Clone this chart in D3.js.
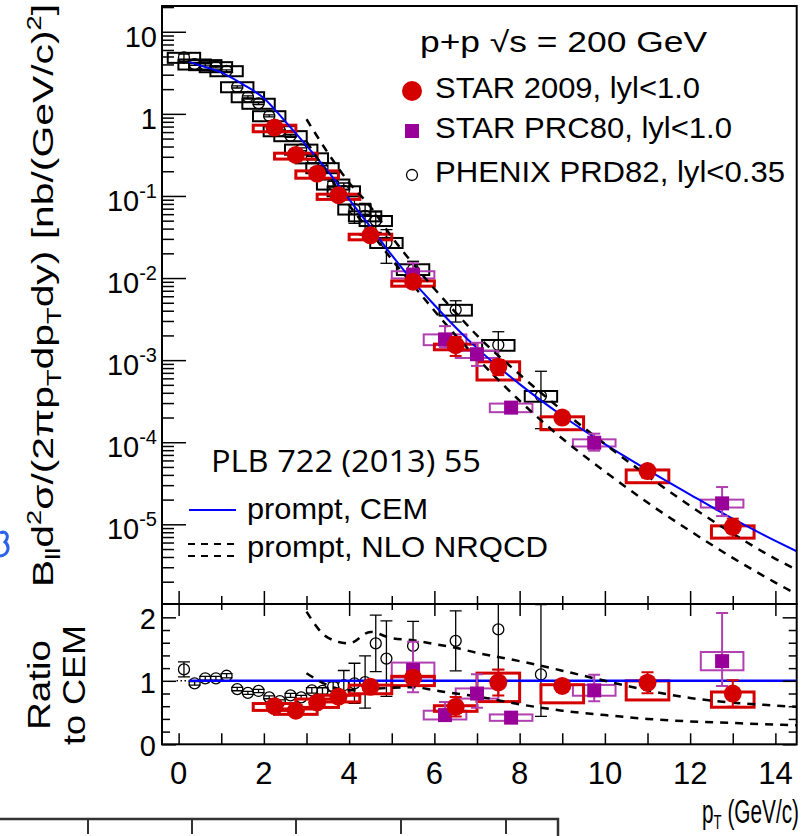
<!DOCTYPE html>
<html>
<head>
<meta charset="utf-8">
<script src="https://cdn.jsdelivr.net/npm/d3@7"></script>
<style>
  body { margin: 0; background: #fff; }
  svg { display: block; }
  text { font-family: "Liberation Sans", Arial, Helvetica, sans-serif; fill: #000; }
</style>
</head>
<body>
<svg id="chart" width="812" height="836"></svg>
<script>
// ---- data ----
// STAR 2009, |y|<1
var starX = [2.25, 2.75, 3.25, 3.75, 4.5, 5.5, 6.5, 7.5, 9, 11, 13];
var starY = [0.68, 0.316, 0.187, 0.102, 0.0332, 0.00904, 0.00152, 0.00083, 0.0002, 0.0000446, 0.0000093];
var starStat = [0.05, 0.05, 0.05, 0.05, 0.06, 0.06, 0.26, 0.21, 0.06, 0.17, 0.26];
var starSysLo = [0.11, 0.11, 0.12, 0.11, 0.12, 0.12, 0.12, 0.31, 0.29, 0.28, 0.27];
var starSysHi = [0.07, 0.05, 0.08, 0.03, 0.03, 0.02, 0.03, 0.15, 0.02, 0.03, 0.03];
var starRatio = [0.60, 0.53, 0.66, 0.75, 0.905, 1.05, 0.59, 0.975, 0.92, 0.97, 0.80];

// STAR PRC80
var prcX = [5.5, 6.25, 7.0, 7.8, 9.75, 12.75];
var prcY = [0.011, 0.00179, 0.00118, 0.000264, 0.0000986, 0.000018];
var prcStatLo = [0.30, 0.20, 0.28, 0.05, 0.20, 0.30];
var prcStatHi = [0.38, 0.45, 0.38, 0.05, 0.29, 0.58];
var prcSys = [0.10, 0.15, 0.10, 0.12, 0.10, 0.11];
var prcRatio = [1.17, 0.46, 0.80, 0.42, 0.85, 1.31];

// PHENIX PRD82, |y|<0.35
var phxX = [0.125, 0.375, 0.625, 0.875, 1.125, 1.375, 1.625, 1.875, 2.125, 2.375, 2.625, 2.875,
            3.125, 3.375, 3.625, 3.875, 4.125, 4.375, 4.625, 4.875, 5.5, 6.5, 7.5, 8.5];
var phxY = [4.86, 4.03, 3.96, 3.74, 3.34, 2.13, 1.61, 1.34, 0.945, 0.62, 0.54, 0.37,
            0.29, 0.22, 0.139, 0.115, 0.069, 0.057, 0.05, 0.027, 0.0128, 0.0041, 0.00153, 0.000366];
var phxStatLo = [0.10, 0.03, 0.03, 0.03, 0.03, 0.03, 0.03, 0.03, 0.03, 0.03, 0.04, 0.04,
                 0.05, 0.06, 0.08, 0.18, 0.33, 0.42, 0.28, 0.44, 0.25, 0.29, 0.35, 0.60];
var phxStatHi = [0.10, 0.03, 0.03, 0.03, 0.03, 0.03, 0.03, 0.03, 0.03, 0.03, 0.04, 0.04,
                 0.05, 0.06, 0.08, 0.25, 0.33, 0.42, 0.28, 0.44, 0.25, 0.29, 0.45, 1.00];
var phxSys = [0.14, 0.14, 0.14, 0.14, 0.14, 0.14, 0.14, 0.14, 0.14, 0.14, 0.14, 0.14,
              0.14, 0.14, 0.14, 0.14, 0.14, 0.14, 0.14, 0.14, 0.15, 0.15, 0.15, 0.15];
var phxRatio = [1.18, 0.96, 1.04, 1.04, 1.08, 0.87, 0.81, 0.84, 0.74, 0.68, 0.77, 0.74,
                0.85, 0.84, 0.91, 0.93, 0.96, 0.98, 1.59, 1.35, 1.55, 1.63, 1.81, 1.10];

// prompt, CEM
var cemX = [0.25, 0.5, 1, 1.5, 2, 2.5, 3, 3.5, 4, 4.5, 5, 5.5, 6, 6.5, 7, 7.5, 8, 9, 10, 11, 12, 13, 14, 14.5];
var cemY = [4.3, 3.9, 3.2, 2.3, 1.55, 0.81, 0.41, 0.2, 0.091, 0.042, 0.019, 0.0091, 0.0047, 0.0025,
            0.0014, 0.00083, 0.00051, 0.00021, 0.000095, 0.000046, 0.000023, 0.0000117, 0.0000063, 0.0000047];

// prompt, NLO NRQCD band (upper and lower edge)
var nrqX = [3, 3.5, 4, 4.5, 5, 5.5, 6, 6.5, 7, 8, 9, 10, 11, 12, 13, 14, 14.5];
var nrqHi = [0.86, 0.336, 0.145, 0.074, 0.0317, 0.0149, 0.0074, 0.0038, 0.0020, 0.00067, 0.000244,
             0.000095, 0.000039, 0.0000168, 0.0000077, 0.0000038, 0.0000028];
var nrqLo = [0.46, 0.186, 0.077, 0.0365, 0.0169, 0.0082, 0.0040, 0.0020, 0.00106, 0.00032, 0.000111,
             0.000044, 0.0000184, 0.0000083, 0.0000039, 0.00000195, 0.00000141];
var nrqHiRatio = [2.09, 1.68, 1.59, 1.77, 1.67, 1.64, 1.58, 1.52, 1.44, 1.31, 1.16, 1.0, 0.85, 0.73, 0.655, 0.61, 0.59];
var nrqLoRatio = [1.12, 0.93, 0.85, 0.87, 0.89, 0.90, 0.85, 0.80, 0.755, 0.63, 0.53, 0.46, 0.40, 0.36, 0.335, 0.31, 0.30];

var xTicks = [0, 2, 4, 6, 8, 10, 12, 14];
var yDecades = [1e-5, 1e-4, 1e-3, 1e-2, 1e-1, 1, 10];
var ratioTicks = [0, 1, 2];

// ---- layout ----
var svg = d3.select("#chart");
var L = 162, R = 796.7, T = 6, M = 604, B = 744.3;
var RED = "#d40000", PURPLE = "#990099", PURPLE_L = "#b040b0", BLUE = "#0000ff";

var x = d3.scaleLinear().domain([-0.39, 14.5]).range([L, R]);
var y = d3.scaleLog().domain([1.07e-6, 20.6]).range([M, T]);
var yr = d3.scaleLinear().domain([0, 2.21]).range([B, M]);

var defs = svg.append("defs");
defs.append("clipPath").attr("id", "clipTop").append("rect")
  .attr("x", L).attr("y", T).attr("width", R - L).attr("height", M - T);
defs.append("clipPath").attr("id", "clipBot").append("rect")
  .attr("x", L).attr("y", M).attr("width", R - L).attr("height", B - M);

function rows(xs, ys, rs, eLo, eHi, sLo, sHi) {
  return xs.map(function (v, i) {
    return { x: v, y: ys[i], r: rs[i], eLo: eLo[i], eHi: eHi[i], sLo: sLo[i], sHi: sHi[i] };
  });
}
var star = rows(starX, starY, starRatio, starStat, starStat, starSysLo, starSysHi);
var prc = rows(prcX, prcY, prcRatio, prcStatLo, prcStatHi, prcSys, prcSys);
var phx = rows(phxX, phxY, phxRatio, phxStatLo, phxStatHi, phxSys, phxSys);

function sysBoxes(g, data, ys, key, hw, color, sw) {
  g.append("g").selectAll("rect").data(data).join("rect")
    .attr("x", function (d) { return x(d.x - hw); })
    .attr("width", function (d) { return x(d.x + hw) - x(d.x - hw); })
    .attr("y", function (d) { return ys(d[key] * (1 + d.sHi)); })
    .attr("height", function (d) { return ys(d[key] * (1 - d.sLo)) - ys(d[key] * (1 + d.sHi)); })
    .attr("fill", "none").attr("stroke", color).attr("stroke-width", sw);
}

function errBars(g, data, ys, key, color, sw) {
  var eg = g.append("g").attr("stroke", color).attr("stroke-width", sw);
  data.forEach(function (d) {
    var cx = x(d.x);
    var y0 = ys(d[key] * (1 - d.eLo)), y1 = ys(d[key] * (1 + d.eHi));
    eg.append("line").attr("x1", cx).attr("x2", cx).attr("y1", y0).attr("y2", y1);
    eg.append("line").attr("x1", cx - 6).attr("x2", cx + 6).attr("y1", y0).attr("y2", y0);
    eg.append("line").attr("x1", cx - 6).attr("x2", cx + 6).attr("y1", y1).attr("y2", y1);
  });
}

function drawPoints(g, ys, key, top) {
  if (top) {
    g.append("g").selectAll("rect").data(phx).join("rect")
      .attr("x", function (d) { return x(d.x - 0.38); })
      .attr("width", function (d) { return x(d.x + 0.38) - x(d.x - 0.38); })
      .attr("y", function (d) { return ys(d[key] * (1 + d.sHi)); })
      .attr("height", function (d) { return ys(d[key] * (1 - d.sLo)) - ys(d[key] * (1 + d.sHi)); })
      .attr("fill", "none").attr("stroke", "#000").attr("stroke-width", 2);
  }
  errBars(g, phx, ys, key, "#000", 1.3);
  g.append("g").selectAll("circle").data(phx).join("circle")
    .attr("cx", function (d) { return x(d.x); })
    .attr("cy", function (d) { return ys(d[key]); })
    .attr("r", 5.5).attr("fill", "none").attr("stroke", "#000").attr("stroke-width", 1.3);
  sysBoxes(g, prc, ys, key, 0.5, PURPLE_L, 2);
  sysBoxes(g, star, ys, key, 0.5, RED, 3);
}

function drawMarkers(g, ys, key) {
  errBars(g, prc, ys, key, PURPLE_L, 2);
  g.append("g").selectAll("rect").data(prc).join("rect")
    .attr("x", function (d) { return x(d.x) - 7; })
    .attr("y", function (d) { return ys(d[key]) - 7; })
    .attr("width", 14).attr("height", 14).attr("fill", PURPLE);
  errBars(g, star, ys, key, RED, 2);
  g.append("g").selectAll("circle").data(star).join("circle")
    .attr("cx", function (d) { return x(d.x); })
    .attr("cy", function (d) { return ys(d[key]); })
    .attr("r", 9).attr("fill", RED);
}

// ---- upper panel ----
var gTop = svg.append("g").attr("clip-path", "url(#clipTop)");
drawPoints(gTop, y, "y", true);

var lineTop = d3.line().x(function (d) { return x(d[0]); }).y(function (d) { return y(d[1]); })
  .curve(d3.curveMonotoneX);
gTop.append("path").datum(cemX.map(function (v, i) { return [v, cemY[i]]; }))
  .attr("d", lineTop).attr("fill", "none").attr("stroke", BLUE).attr("stroke-width", 2);
[nrqHi, nrqLo].forEach(function (arr) {
  gTop.append("path").datum(nrqX.map(function (v, i) { return [v, arr[i]]; }))
    .attr("d", lineTop).attr("fill", "none").attr("stroke", "#000")
    .attr("stroke-width", 2.5).attr("stroke-dasharray", "8,7");
});
drawMarkers(gTop, y, "y");

// ---- lower panel ----
var gBot = svg.append("g").attr("clip-path", "url(#clipBot)");
var lineBot = d3.line().x(function (d) { return x(d[0]); }).y(function (d) { return yr(d[1]); })
  .curve(d3.curveMonotoneX);
gBot.append("line").attr("x1", x(-0.05)).attr("x2", x(cemX[0])).attr("y1", yr(1)).attr("y2", yr(1))
  .attr("stroke", "#000").attr("stroke-width", 1.5).attr("stroke-dasharray", "1.5,2.5");
drawPoints(gBot, yr, "r", false);
gBot.append("line").attr("x1", x(cemX[0])).attr("x2", x(cemX[cemX.length - 1]))
  .attr("y1", yr(1)).attr("y2", yr(1)).attr("stroke", BLUE).attr("stroke-width", 2.5);
[nrqHiRatio, nrqLoRatio].forEach(function (arr) {
  gBot.append("path").datum(nrqX.map(function (v, i) { return [v, arr[i]]; }))
    .attr("d", lineBot).attr("fill", "none").attr("stroke", "#000")
    .attr("stroke-width", 2.5).attr("stroke-dasharray", "8,7");
});
drawMarkers(gBot, yr, "r");

// ---- axes ----
function styleAxis(g) {
  g.select(".domain").remove();
  g.selectAll("line").attr("stroke", "#000").attr("stroke-width", 1.5);
  g.selectAll("text").remove();
}
var minorLog = y.ticks().filter(function (v) {
  return Math.abs(Math.log10(v) - Math.round(Math.log10(v))) > 1e-6;
});
svg.append("g").attr("transform", "translate(" + L + ",0)")
  .call(d3.axisRight(y).tickValues(yDecades).tickSize(24)).call(styleAxis);
svg.append("g").attr("transform", "translate(" + L + ",0)")
  .call(d3.axisRight(y).tickValues(minorLog).tickSize(12)).call(styleAxis);

var allX = d3.range(0, 15);
var oddX = allX.filter(function (v) { return v % 2; });
svg.append("g").attr("transform", "translate(0," + M + ")")
  .call(d3.axisTop(x).tickValues(xTicks).tickSize(13)).call(styleAxis);
svg.append("g").attr("transform", "translate(0," + M + ")")
  .call(d3.axisTop(x).tickValues(oddX).tickSize(8)).call(styleAxis);
svg.append("g").attr("transform", "translate(0," + M + ")")
  .call(d3.axisBottom(x).tickValues(xTicks).tickSize(12)).call(styleAxis);
svg.append("g").attr("transform", "translate(0," + M + ")")
  .call(d3.axisBottom(x).tickValues(oddX).tickSize(6)).call(styleAxis);
svg.append("g").attr("transform", "translate(0," + B + ")")
  .call(d3.axisTop(x).tickValues(allX).tickSize(11)).call(styleAxis);

var minorR = d3.range(1, 11).map(function (k) { return k / 5; }).filter(function (v) { return v % 1; });
svg.append("g").attr("transform", "translate(" + L + ",0)")
  .call(d3.axisRight(yr).tickValues(ratioTicks).tickSize(14)).call(styleAxis);
svg.append("g").attr("transform", "translate(" + L + ",0)")
  .call(d3.axisRight(yr).tickValues(minorR).tickSize(8)).call(styleAxis);
svg.append("g").attr("transform", "translate(" + R + ",0)")
  .call(d3.axisLeft(yr).tickValues(ratioTicks).tickSize(14)).call(styleAxis);
svg.append("g").attr("transform", "translate(" + R + ",0)")
  .call(d3.axisLeft(yr).tickValues(minorR).tickSize(8)).call(styleAxis);

// frames
svg.append("rect").attr("x", L).attr("y", T).attr("width", R - L).attr("height", M - T)
  .attr("fill", "none").attr("stroke", "#000").attr("stroke-width", 2);
svg.append("rect").attr("x", L).attr("y", M).attr("width", R - L).attr("height", B - M)
  .attr("fill", "none").attr("stroke", "#000").attr("stroke-width", 2);

// tick labels
yDecades.forEach(function (v) {
  var e = Math.round(Math.log10(v));
  var t = svg.append("text").attr("x", 157).attr("y", y(v) + 15)
    .attr("text-anchor", "end").attr("font-size", 29);
  if (e === 0) t.text("1");
  else if (e === 1) t.text("10");
  else {
    t.append("tspan").text("10");
    t.append("tspan").attr("dy", -13).attr("font-size", 20).text(String(e));
  }
});
ratioTicks.forEach(function (v) {
  svg.append("text").attr("x", 156).attr("y", yr(v) + 12)
    .attr("text-anchor", "end").attr("font-size", 29).text(v);
});
xTicks.forEach(function (v) {
  svg.append("text").attr("x", x(v)).attr("y", 784)
    .attr("text-anchor", "middle").attr("font-size", 31).text(v);
});

// axis titles
var yt = svg.append("text").attr("transform", "translate(53,4) rotate(-90)")
  .attr("text-anchor", "end").attr("font-size", 30)
  .attr("textLength", 583).attr("lengthAdjust", "spacingAndGlyphs");
yt.append("tspan").text("B");
yt.append("tspan").attr("font-size", 20).attr("dy", 7).text("ll");
yt.append("tspan").attr("dy", -7).text("d");
yt.append("tspan").attr("font-size", 20).attr("dy", -12).text("2");
yt.append("tspan").attr("dy", 12).text("σ/(2πp");
yt.append("tspan").attr("font-size", 20).attr("dy", 8).text("T");
yt.append("tspan").attr("dy", -8).text("dp");
yt.append("tspan").attr("font-size", 20).attr("dy", 8).text("T");
yt.append("tspan").attr("dy", -8).text("dy) [nb/(GeV/c)");
yt.append("tspan").attr("font-size", 20).attr("dy", -12).text("2");
yt.append("tspan").attr("dy", 12).text("]");

svg.append("text").attr("transform", "translate(50,685) rotate(-90)")
  .attr("text-anchor", "middle").attr("font-size", 32)
  .attr("textLength", 90).attr("lengthAdjust", "spacingAndGlyphs").text("Ratio");
svg.append("text").attr("transform", "translate(85,685) rotate(-90)")
  .attr("text-anchor", "middle").attr("font-size", 32)
  .attr("textLength", 120).attr("lengthAdjust", "spacingAndGlyphs").text("to CEM");

// x title, condensed like the original
var xt = svg.append("text").attr("transform", "translate(702,823) scale(0.63,1)")
  .attr("font-size", 33);
xt.append("tspan").text("p");
xt.append("tspan").attr("font-size", 21).attr("dy", 6).text("T");
xt.append("tspan").attr("dy", -6).text(" (GeV/c)");

// ---- legend ----
function legText(tx, ty, len, str, size) {
  return svg.append("text").attr("x", tx).attr("y", ty).attr("font-size", size || 29)
    .attr("textLength", len).attr("lengthAdjust", "spacingAndGlyphs").text(str);
}
legText(420, 52, 287, "p+p √s = 200 GeV");
svg.append("circle").attr("cx", 412).attr("cy", 91).attr("r", 10).attr("fill", RED);
legText(435, 98, 265, "STAR 2009, lyl<1.0");
svg.append("rect").attr("x", 405).attr("y", 124).attr("width", 14).attr("height", 14).attr("fill", PURPLE);
legText(435, 138, 297, "STAR PRC80, lyl<1.0");
svg.append("circle").attr("cx", 412).attr("cy", 175).attr("r", 5.5)
  .attr("fill", "none").attr("stroke", "#000").attr("stroke-width", 1.3);
legText(435, 182, 350, "PHENIX PRD82, lyl<0.35");

svg.append("text").attr("x", 211).attr("y", 472).attr("font-size", 31)
  .style("font-family", "'Open Sans', 'Noto Sans', sans-serif")
  .attr("textLength", 270).attr("lengthAdjust", "spacingAndGlyphs").text("PLB 722 (2013) 55");

svg.append("line").attr("x1", 189).attr("x2", 236).attr("y1", 510).attr("y2", 510)
  .attr("stroke", BLUE).attr("stroke-width", 2);
legText(247, 519, 181, "prompt, CEM");
[544, 556].forEach(function (ly) {
  svg.append("line").attr("x1", 188).attr("x2", 236).attr("y1", ly).attr("y2", ly)
    .attr("stroke", "#000").attr("stroke-width", 2).attr("stroke-dasharray", "7,6");
});
legText(247, 557, 301, "prompt, NLO NRQCD");

// ---- fragments of neighbouring figures at the page edges ----
svg.append("path").attr("d", "M0,533 C6,530 10,536 5,542 C10,546 9,555 0,556")
  .attr("fill", "none").attr("stroke", "#2a62e8").attr("stroke-width", 3);
var frag = svg.append("g").attr("stroke", "#333").attr("stroke-width", 2.5).attr("fill", "none");
frag.append("path").attr("d", "M0,819H558V836");
[88, 192, 296, 401, 506].forEach(function (tx) {
  frag.append("line").attr("x1", tx).attr("x2", tx).attr("y1", 819).attr("y2", 834).attr("stroke-width", 2);
});
</script>
</body>
</html>
